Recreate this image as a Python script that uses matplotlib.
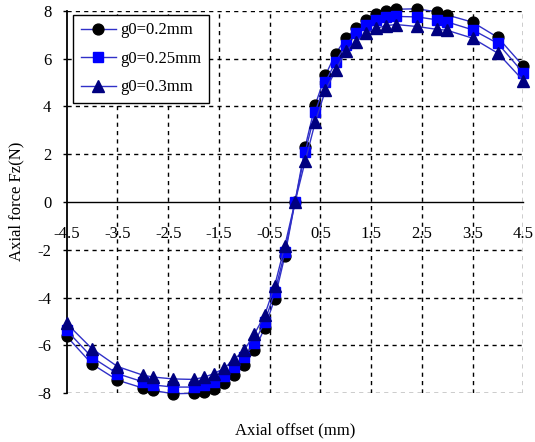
import matplotlib
matplotlib.use("Agg")
import matplotlib.pyplot as plt
import numpy as np

plt.rcParams['font.family'] = ['Liberation Serif', 'DejaVu Serif']

offset = [-4.5, -4.0, -3.5, -3.0, -2.8, -2.4, -2.0, -1.8, -1.6, -1.4, -1.2, -1.0,
          -0.8, -0.6, -0.4, -0.2, 0.0, 0.2, 0.4, 0.6, 0.8, 1.0, 1.2, 1.4, 1.6,
          1.8, 2.0, 2.4, 2.8, 3.0, 3.5, 4.0, 4.5]

fz_g02 = [-5.62, -6.78, -7.45, -7.78, -7.88, -8.02, -8.00, -7.93, -7.80, -7.55, -7.25, -6.83,
          -6.20, -5.28, -4.05, -2.25, 0.0, 2.30, 4.07, 5.30, 6.20, 6.84, 7.26, 7.62, 7.85,
          7.97, 8.06, 8.08, 7.95, 7.82, 7.52, 6.88, 5.68]

fz_g025 = [-5.37, -6.50, -7.18, -7.52, -7.65, -7.74, -7.74, -7.67, -7.53, -7.27, -6.92, -6.50,
           -5.88, -5.02, -3.78, -2.09, 0.0, 2.09, 3.77, 5.02, 5.86, 6.56, 7.05, 7.39, 7.60,
           7.72, 7.76, 7.74, 7.62, 7.53, 7.20, 6.63, 5.40]

fz_g03 = [-5.08, -6.14, -6.88, -7.24, -7.32, -7.40, -7.42, -7.33, -7.18, -6.96, -6.58, -6.20,
          -5.52, -4.74, -3.50, -1.82, 0.0, 1.70, 3.35, 4.67, 5.50, 6.32, 6.70, 7.05, 7.26,
          7.38, 7.42, 7.34, 7.22, 7.18, 6.85, 6.22, 5.08]

labels = ['g0=0.2mm', 'g0=0.25mm', 'g0=0.3mm']
x_ticks = [-4.5, -3.5, -2.5, -1.5, -0.5, 0.5, 1.5, 2.5, 3.5, 4.5]
x_tick_labels = ['-4.5', '-3.5', '-2.5', '-1.5', '-0.5', '0.5', '1.5', '2.5', '3.5', '4.5']
y_ticks = [-8, -6, -4, -2, 0, 2, 4, 6, 8]
y_tick_labels = ['-8', '-6', '-4', '-2', '0', '2', '4', '6', '8']

fig = plt.figure(figsize=(5.35, 4.42), dpi=100)
ax = fig.add_axes([0.1247, 0.1102, 0.8534, 0.8656])

line_col = '#3030c8'
ax.plot(offset, fz_g02, color=line_col, lw=1.0, marker='o', ms=7.8,
        mfc='black', mec='black', label=labels[0], clip_on=False, zorder=3)
ax.plot(offset, fz_g025, color=line_col, lw=1.0, marker='s', ms=6.6,
        mfc='#0000ff', mec='#0000ff', label=labels[1], clip_on=False, zorder=4)
ax.plot(offset, fz_g03, color=line_col, lw=1.0, marker='^', ms=8.3,
        mfc='#000080', mec='#000080', label=labels[2], clip_on=False, zorder=5)

ax.set_xlim(-4.5, 4.5)
ax.set_ylim(-8, 8)

# gridlines
for xv in x_ticks[1:]:
    ax.axvline(xv, color='black', lw=1.0, ls=(0, (3, 3)), zorder=1)
for yv in y_ticks:
    if yv != 0:
        ax.axhline(yv, color='black', lw=1.0, ls=(0, (3, 3)), zorder=1)

ax.spines['top'].set_visible(False)
ax.spines['right'].set_visible(False)
ax.spines['bottom'].set_position(('data', 0))
ax.spines['bottom'].set_linewidth(1.0)
ax.spines['left'].set_linewidth(1.3)

ax.set_xticks(x_ticks)
ax.set_xticklabels(x_tick_labels)
ax.set_yticks(y_ticks)
ax.set_yticklabels(y_tick_labels)
ax.tick_params(axis='x', length=0, pad=17, labelsize=12)
ax.tick_params(axis='y', length=3, width=1, pad=8, labelsize=12, direction='out')

fig.text(0.5514, 0.027, 'Axial offset (mm)', ha='center', va='center', fontsize=12)
fig.text(0.03, 0.545, 'Axial force Fz(N)', ha='center', va='center',
         rotation=90, fontsize=12)

leg = ax.legend(loc='upper left', bbox_to_anchor=(0.014, 0.989), borderaxespad=0,
                fancybox=False, shadow=False, framealpha=1, edgecolor='black',
                fontsize=12, handlelength=2.1, handletextpad=0.3,
                labelspacing=0.75, borderpad=0.45)
leg.get_frame().set_linewidth(1.0)
leg.set_zorder(10)

fig.savefig('out.png', dpi=100)
